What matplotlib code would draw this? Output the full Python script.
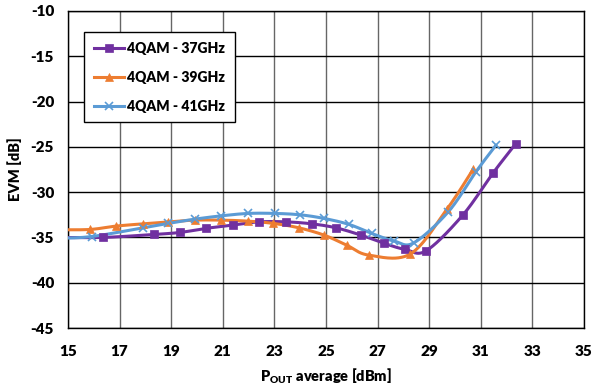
import numpy as np
import matplotlib
matplotlib.use("Agg")
import matplotlib.pyplot as plt

plt.rcParams['font.family'] = ['Lato', 'DejaVu Sans']
plt.rcParams['mathtext.fontset'] = 'custom'
plt.rcParams['mathtext.rm'] = 'Lato:heavy'
plt.rcParams['mathtext.bf'] = 'Lato:heavy'

# ---- data ----
x37 = [14.6, 16.37, 18.34, 19.34, 20.35, 21.38, 22.41, 23.45, 24.45, 25.39, 26.36, 27.26, 28.06, 28.88, 30.30, 31.46, 32.36]
y37 = [-35.0, -35.0, -34.67, -34.45, -34.0, -33.64, -33.28, -33.28, -33.5, -33.94, -34.75, -35.66, -36.32, -36.48, -32.54, -27.94, -24.63]

x39 = [14.6, 15.85, 16.86, 17.90, 18.89, 19.92, 20.93, 21.97, 22.96, 23.95, 24.93, 25.80, 26.65, 28.26, 29.68, 30.71]
y39 = [-34.15, -34.12, -33.75, -33.5, -33.28, -33.09, -33.09, -33.2, -33.45, -33.94, -34.75, -35.85, -36.95, -36.84, -31.91, -27.45]

x41 = [14.6, 15.92, 17.90, 18.89, 19.92, 20.93, 21.99, 23.02, 23.99, 24.92, 25.90, 26.77, 27.65, 28.40, 29.74, 30.81, 31.59]
y41 = [-35.1, -34.9, -33.94, -33.45, -32.98, -32.62, -32.35, -32.35, -32.5, -32.9, -33.57, -34.56, -35.41, -35.6, -32.17, -27.76, -24.81]

labels = ['4QAM - 37GHz', '4QAM - 39GHz', '4QAM - 41GHz']
colors = ['#7030A0', '#ED7D31', '#5B9BD5']
markers = ['s', '^', 'x']
xticks = [15, 17, 19, 21, 23, 25, 27, 29, 31, 33, 35]
yticks = [-10, -15, -20, -25, -30, -35, -40, -45]


def smooth(xs, ys, n=30):
    P = np.column_stack([xs, ys]).astype(float)
    m = len(P)
    out = []
    for i in range(m - 1):
        p0 = P[i - 1] if i > 0 else P[i]
        p1 = P[i]
        p2 = P[i + 1]
        p3 = P[i + 2] if i + 2 < m else P[i + 1]
        c1 = p1 + (p2 - p0) / 6.0
        c2 = p2 - (p3 - p1) / 6.0
        t = np.linspace(0, 1, n)[:, None]
        seg = ((1 - t) ** 3) * p1 + 3 * ((1 - t) ** 2) * t * c1 + 3 * (1 - t) * t ** 2 * c2 + t ** 3 * p2
        out.append(seg if i == 0 else seg[1:])
    s = np.vstack(out)
    return s[:, 0], s[:, 1]


fig = plt.figure(figsize=(5.94, 3.90), dpi=100)
ax = fig.add_axes([68 / 594, 1 - 328 / 390, (584 - 68) / 594, (328 - 11) / 390])

series = [(x37, y37), (x39, y39), (x41, y41)]
handles = []
for (xs, ys), lab, c, mk in zip(series, labels, colors, markers):
    sx, sy = smooth(xs, ys)
    ax.plot(sx, sy, color=c, lw=2.2, solid_capstyle='round', zorder=3)
    ax.plot(xs, ys, linestyle='none', marker=mk, color=c, markersize=6,
            markeredgewidth=1.2 if mk == 'x' else 0.5, zorder=4)
    h, = ax.plot([], [], color=c, lw=2.2, marker=mk, markersize=6, markeredgewidth=1.2 if mk == 'x' else 0.5)
    handles.append(h)

ax.set_xlim(15, 35)
ax.set_ylim(-45, -10)
ax.set_xticks(xticks)
ax.set_yticks(yticks)
ax.set_xticklabels([str(v) for v in xticks], fontsize=11, fontweight='heavy')
ax.set_yticklabels([str(v) for v in yticks], fontsize=11, fontweight='heavy')
ax.tick_params(length=0)
ax.tick_params(axis='x', pad=12)
ax.tick_params(axis='y', pad=10)

ax.xaxis.grid(True, color='#666666', lw=1.0)
ax.yaxis.grid(True, color='black', lw=1.0)
ax.set_axisbelow(True)
for sp in ax.spines.values():
    sp.set_color('black')
    sp.set_linewidth(1.0)

ax.set_xlabel(r'P$_{\mathrm{OUT}}$ average [dBm]', fontsize=10.5, fontweight='heavy', labelpad=6)
ax.set_ylabel('EVM [dB]', fontsize=10.5, fontweight='heavy', labelpad=6)

leg = ax.legend(handles, labels, loc='upper left', bbox_to_anchor=(0.031, 0.934),
                borderaxespad=0,
                prop={'weight': 'heavy', 'size': 10}, frameon=True, fancybox=False,
                edgecolor='black', framealpha=1, handlelength=2.2, handletextpad=0.2,
                labelspacing=1.15, borderpad=0.7)
leg.get_frame().set_linewidth(1.0)

fig.savefig('out.png', dpi=100)
